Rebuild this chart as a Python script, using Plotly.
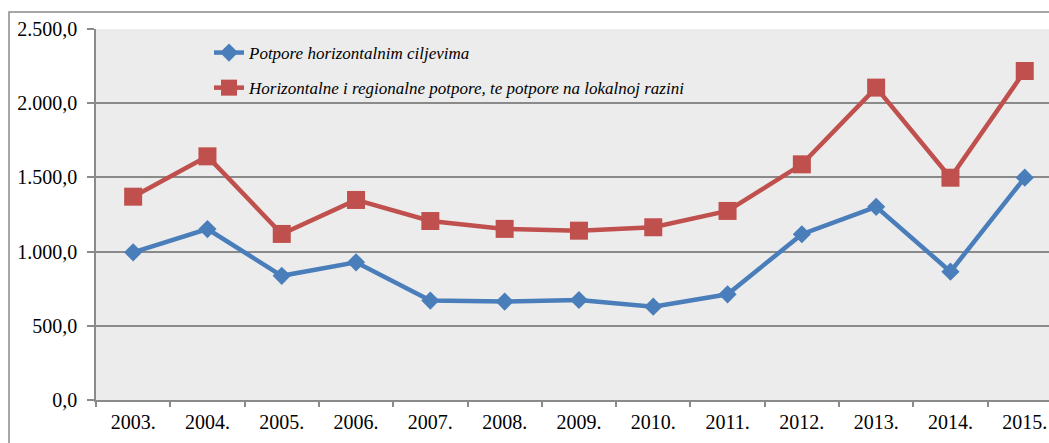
import plotly.graph_objects as go

years = ["2003.", "2004.", "2005.", "2006.", "2007.", "2008.", "2009.",
         "2010.", "2011.", "2012.", "2013.", "2014.", "2015."]
horizontal = [995, 1152, 837, 928, 670, 663, 674, 629, 712, 1117, 1302, 865, 1498]
horiz_regional_local = [1370, 1642, 1119, 1348, 1206, 1153, 1141, 1164, 1274, 1588, 2105, 1498, 2217]
y_ticks = [0, 500, 1000, 1500, 2000, 2500]

name_blue = "Potpore horizontalnim ciljevima"
name_red = "Horizontalne i regionalne potpore, te potpore na lokalnoj razini"

serif = "'Liberation Serif', 'Times New Roman', serif"
grid_col = "#8a8a8a"

fig = go.Figure()
fig.add_trace(go.Scatter(
    x=years, y=horizontal, name=name_blue, mode="lines+markers",
    line=dict(color="#4a7ebb", width=4.5),
    marker=dict(symbol="diamond", size=14, color="#4a7ebb"),
    legendgroup="a",
))
fig.add_trace(go.Scatter(
    x=years, y=horiz_regional_local, name=name_red, mode="lines+markers",
    line=dict(color="#c0504d", width=4.5),
    marker=dict(symbol="square", size=18, color="#c0504d"),
    legendgroup="b",
))

W, H = 1049, 443
L, R, T, B = 96, 0, 29, 43
plot_w = W - L - R
plot_h = H - T - B
cat_w = 74.3

def px_x(xw):
    return (xw - L) / plot_w

def px_y(yw):
    return (400 - yw) / plot_h

fig.update_layout(
    width=W, height=H,
    margin=dict(l=L, r=R, t=T, b=B),
    paper_bgcolor="white",
    plot_bgcolor="#ececec",
    separators=",.",
    font=dict(family=serif, size=20, color="black"),
    showlegend=True,
    legend=dict(
        x=px_x(209), y=px_y(35),
        xanchor="left", yanchor="top",
        bgcolor="rgba(0,0,0,0)",
        font=dict(family=serif, size=17, style="italic"),
        traceorder="grouped", tracegroupgap=10,
    ),
    xaxis=dict(
        type="category",
        range=[-0.5, -0.5 + plot_w / cat_w],
        showgrid=False,
        showline=True, linecolor=grid_col, linewidth=1.5,
        ticks="outside", tickson="boundaries", ticklen=5,
        tickcolor=grid_col, tickwidth=1.5,
        ticklabelstandoff=3,
        tickfont=dict(family=serif, size=20),
    ),
    yaxis=dict(
        range=[0, 2500],
        tickvals=y_ticks,
        tickformat=",.1f",
        showgrid=True, gridcolor=grid_col, gridwidth=1.5,
        showline=True, linecolor=grid_col, linewidth=1.5,
        ticks="outside", ticklen=7, tickcolor=grid_col, tickwidth=1.5,
        ticklabelstandoff=6,
        zeroline=False,
        tickfont=dict(family=serif, size=20),
    ),
    shapes=[dict(
        type="rect", xref="paper", yref="paper",
        x0=px_x(9), x1=1.2,
        y0=-0.3, y1=px_y(12),
        line=dict(color="#8a8a8a", width=1.5),
        fillcolor="rgba(0,0,0,0)",
        layer="below",
    )],
)

fig.write_html(
    "out.html",
    config={"displayModeBar": False},
    post_script="document.body.style.margin='0';document.body.style.overflow='hidden';",
)
